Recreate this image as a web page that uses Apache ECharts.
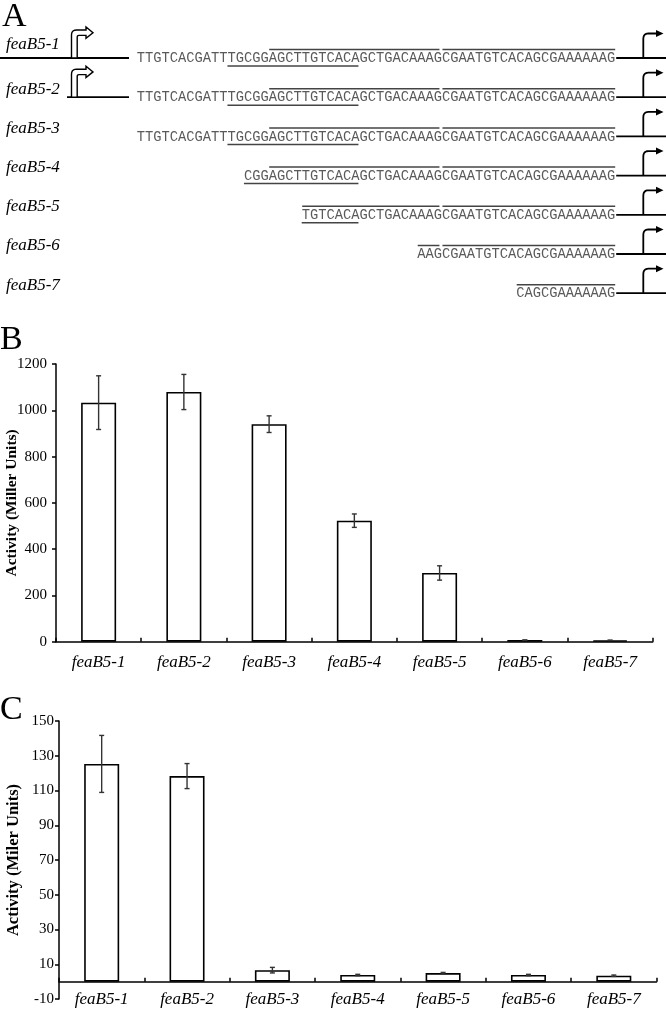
<!DOCTYPE html>
<html><head><meta charset="utf-8">
<script src="https://cdn.jsdelivr.net/npm/echarts@6/dist/echarts.min.js"></script>
<style>html,body{margin:0;padding:0;background:#fff}#c{width:666px;height:1009px}</style>
</head><body><div id="c"></div>
<script>
// ---------- data ----------
const categories = ['feaB5-1','feaB5-2','feaB5-3','feaB5-4','feaB5-5','feaB5-6','feaB5-7'];
const activityB = [1033, 1079, 940, 523, 297, 7, 6];
const errorB    = [116, 76, 36, 29, 31, 0.5, 0.5];
const activityC = [125.3, 118.3, 6.6, 3.8, 4.9, 3.8, 3.4];
const errorC    = [16.4, 7.2, 1.6, 0.4, 0.4, 0.4, 0.4];
const yTicksB = [0, 200, 400, 600, 800, 1000, 1200];
const yTicksC = [-10, 10, 30, 50, 70, 90, 110, 130, 150];
const yNameB = 'Activity (Miller Units)';
const yNameC = 'Activity (Miler Units)';
const fullSequence = 'TTGTCACGATTTGCGGAGCTTGTCACAGCTGACAAAGCGAATGTCACAGCGAAAAAAG';
const constructStart = [1, 1, 1, 14, 21, 35, 47];          // 1-based first base of each construct
const upstreamPromoter = [true, true, false, false, false, false, false];
const underlineSpan = [12, 27];
const overlineSpans = [[17, 37], [38, 58]];

// ---------- style ----------
const SERIF = '"Liberation Serif","Times New Roman",serif';
const MONO = '"Liberation Mono","Courier New",monospace';
const seqFont = 13.75, cw = seqFont * 0.6, seqX0 = 136.7, rowY0 = 58, rowDy = 39.2;

const graphics = [];
function gLine(x1, y1, x2, y2, stroke, lw) {
  graphics.push({type:'line', silent:true, shape:{x1, y1, x2, y2}, style:{stroke, lineWidth:lw}});
}
function gText(text, x, y, font, fill, align, valign) {
  graphics.push({type:'text', silent:true, style:{text, x, y, font, fill, align:align||'left', verticalAlign:valign||'middle'}});
}
function gPoly(points, style, closed) {
  graphics.push({type: closed ? 'polygon' : 'polyline', silent:true, shape:{points}, style});
}
function quad(p0, p1, p2, n) {
  const pts = [];
  for (let k = 1; k <= n; k++) {
    const t = k / n, u = 1 - t;
    pts.push([u*u*p0[0] + 2*u*t*p1[0] + t*t*p2[0], u*u*p0[1] + 2*u*t*p1[1] + t*t*p2[1]]);
  }
  return pts;
}

// panel letters
gText('A', 2, 17, '34px ' + SERIF, '#000');
gText('B', 0, 340, '34px ' + SERIF, '#000');
gText('C', 0, 710, '34px ' + SERIF, '#000');

const seqEnd = fullSequence.length;
categories.forEach((name, i) => {
  const y = rowY0 + i * rowDy;
  const s = constructStart[i];
  const colX = k => seqX0 + (k - 1) * cw; // left edge of base k
  gText(fullSequence.slice(s - 1), colX(s), y + 0.5, seqFont + 'px ' + MONO, '#5a5a5a');
  if (s <= underlineSpan[1]) {
    const a = Math.max(s, underlineSpan[0]);
    gLine(colX(a), y + 8, colX(underlineSpan[1] + 1) - 1, y + 8, '#444', 1.5);
  }
  overlineSpans.forEach((sp, j) => {
    if (s <= sp[1]) {
      const a = Math.max(s, sp[0]);
      const endInset = j === 0 ? 2.5 : 0;
      gLine(colX(a) + 0.5, y - 8.5, colX(sp[1] + 1) - endInset, y - 8.5, '#444', 1.5);
    }
  });
  // downstream line + bent arrow
  gLine(colX(seqEnd + 1) + 1, y, 666, y, '#000', 1.8);
  const bent = [[643.3, y], [643.3, y - 19]].concat(quad([643.3, y - 19], [643.3, y - 24.5], [648.5, y - 24.5], 6), [[657, y - 24.5]]);
  gPoly(bent, {stroke:'#000', lineWidth:1.8, fill:null}, false);
  gPoly([[656, y - 28], [663.5, y - 24.5], [656, y - 21]], {fill:'#000'}, true);
  // label
  gText(name, 6, i === 0 ? 45 : y - 8, 'italic 17px ' + SERIF, '#000');
  // upstream promoter (hollow bent arrow)
  if (upstreamPromoter[i]) {
    gLine(i === 0 ? 0 : 67, y, 129, y, '#000', 1.8);
    const pts = [[71.5, y], [71.5, y - 23]]
      .concat(quad([71.5, y - 23], [71.5, y - 28], [76.5, y - 28], 5))
      .concat([[86, y - 28], [86, y - 31], [93, y - 25.3], [86, y - 19.6], [86, y - 22.6], [79, y - 22.6]])
      .concat(quad([79, y - 22.6], [77.2, y - 22.6], [77.2, y - 20.8], 3))
      .concat([[77.2, y]]);
    gPoly(pts, {stroke:'#000', lineWidth:1.4, fill:'#fff'}, true);
  }
});

// ---------- chart ----------
function errorSeries(vals, errs, axisIdx) {
  return {
    type:'custom', xAxisIndex:axisIdx, yAxisIndex:axisIdx, z:5, silent:true,
    data: categories.map((c, i) => [i, vals[i], errs[i]]),
    renderItem(params, api) {
      const x = api.value(0), v = api.value(1), e = api.value(2);
      const t = api.coord([x, v + e]), b = api.coord([x, v - e]);
      const hw = 2.5, st = {stroke:'#333', lineWidth:1.4};
      return {type:'group', children:[
        {type:'line', shape:{x1:t[0], y1:t[1], x2:b[0], y2:b[1]}, style:st},
        {type:'line', shape:{x1:t[0]-hw, y1:t[1], x2:t[0]+hw, y2:t[1]}, style:st},
        {type:'line', shape:{x1:b[0]-hw, y1:b[1], x2:b[0]+hw, y2:b[1]}, style:st}
      ]};
    }
  };
}
const axisLineStyle = {color:'#000', width:1.5};
function catAxis(idx, margin) {
  return {
    type:'category', gridIndex:idx, data:categories,
    axisLine:{show:true, onZero:true, lineStyle:axisLineStyle},
    axisTick:{show:true, inside:true, length:4, lineStyle:axisLineStyle},
    axisLabel:{fontFamily:SERIF, fontStyle:'italic', fontSize:17, color:'#000', margin},
    splitLine:{show:false}
  };
}
function valAxis(idx, ticks, name, nameGap, nameSize, margin) {
  return {
    type:'value', gridIndex:idx, min:ticks[0], max:ticks[ticks.length-1], interval:ticks[1]-ticks[0],
    name, nameLocation:'middle', nameGap, nameMoveOverlap:false,
    nameTextStyle:{fontFamily:SERIF, fontWeight:'bold', fontSize:nameSize, color:'#000'},
    axisLine:{show:true, lineStyle:axisLineStyle},
    axisTick:{show:true, inside:false, length:4, lineStyle:axisLineStyle},
    axisLabel:{fontFamily:SERIF, fontSize:15, color:'#000', margin, formatter: v => String(v)},
    splitLine:{show:false}
  };
}
const barStyle = {color:'#fff', borderColor:'#000', borderWidth:1.6};
const option = {
  animation:false,
  backgroundColor:'#fff',
  grid:[
    {left:56, right:13.3, top:364, bottom:367.3, outerBoundsMode:'none', containLabel:false},
    {left:59, right:9.5, top:721, bottom:10, outerBoundsMode:'none', containLabel:false}
  ],
  xAxis:[catAxis(0, 12), catAxis(1, -8)],
  yAxis:[valAxis(0, yTicksB, yNameB, 36, 15.5, 9), valAxis(1, yTicksC, yNameC, 37, 16.5, 5)],
  series:[
    {type:'bar', xAxisIndex:0, yAxisIndex:0, data:activityB, barWidth:35, itemStyle:barStyle, silent:true},
    errorSeries(activityB, errorB, 0),
    {type:'bar', xAxisIndex:1, yAxisIndex:1, data:activityC, barWidth:35, itemStyle:barStyle, silent:true},
    errorSeries(activityC, errorC, 1)
  ],
  graphic: graphics
};
const chart = echarts.init(document.getElementById('c'), null, {renderer:'canvas'});
chart.setOption(option);
</script></body></html>
